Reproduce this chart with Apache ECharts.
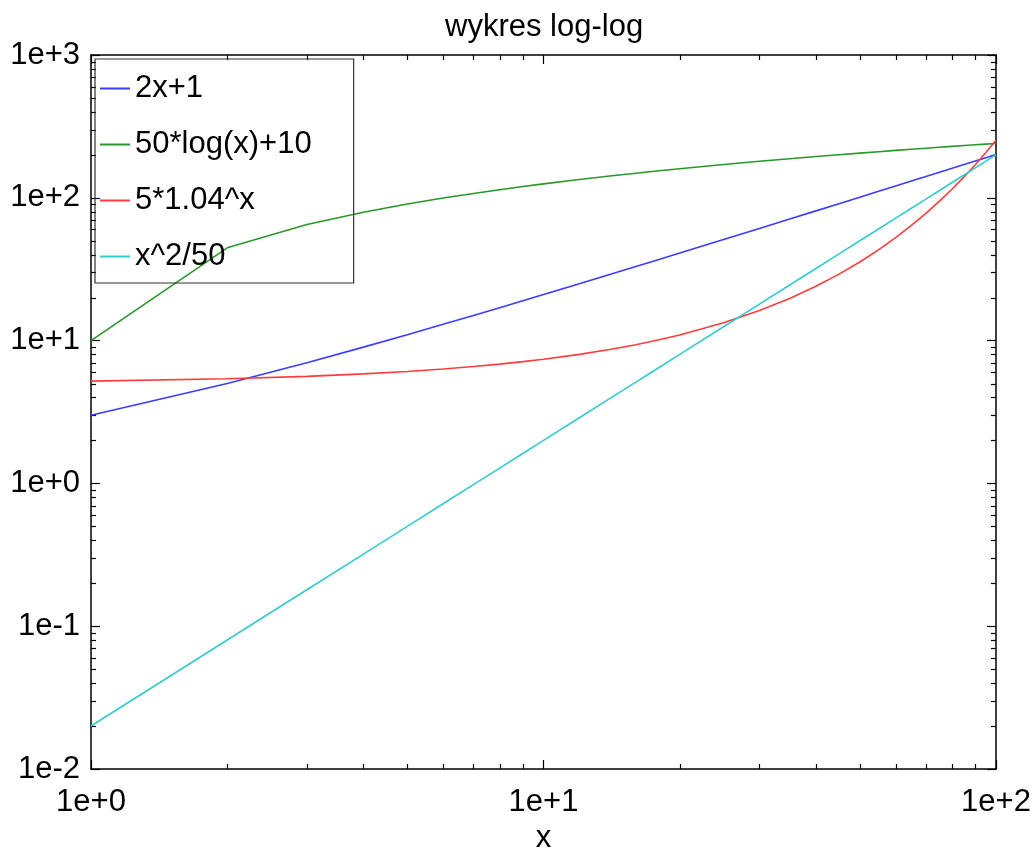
<!DOCTYPE html>
<html>
<head>
<meta charset="utf-8">
<script src="https://cdn.jsdelivr.net/npm/echarts@6/dist/echarts.min.js"></script>
<style>
html,body{margin:0;padding:0;background:#fff;}
#chart{width:1034px;height:849px;}
</style>
</head>
<body>
<div id="chart"></div>
<script>
// ---- data ----
const xValues = [1,2,3,4,5,6,7,8,9,10,12,14,16,18,20,25,30,35,40,45,50,55,60,65,70,75,80,85,90,95,100];
const seriesNames = ['2x+1', '50*log(x)+10', '5*1.04^x', 'x^2/50'];
const blueValues = [3,5,7,9,11,13,15,17,19,21,25,29,33,37,41,51,61,71,81,91,101,111,121,131,141,151,161,171,181,191,201];
const greenValues = [10,44.66,64.93,79.31,90.47,99.59,107.3,113.97,119.86,125.13,134.25,141.95,148.63,154.52,159.79,170.94,180.06,187.77,194.44,200.33,205.6,210.37,214.72,218.72,222.42,225.87,229.1,232.13,234.99,237.69,240.26];
const redValues = [5.2,5.41,5.62,5.85,6.08,6.33,6.58,6.84,7.12,7.4,8.01,8.66,9.36,10.13,10.96,13.33,16.22,19.73,24.0,29.21,35.53,43.23,52.6,63.99,77.86,94.73,115.25,140.22,170.6,207.56,252.52];
const cyanValues = [0.02,0.08,0.18,0.32,0.5,0.72,0.98,1.28,1.62,2,2.88,3.92,5.12,6.48,8,12.5,18,24.5,32,40.5,50,60.5,72,84.5,98,112.5,128,144.5,162,180.5,200];
const xTickLabels = ['1e+0','1e+1','1e+2'];          // for 10^0 .. 10^2
const yTickLabels = ['1e-2','1e-1','1e+0','1e+1','1e+2','1e+3']; // for 10^-2 .. 10^3
const xMinorTicks = [2,3,4,5,6,7,8,9,20,30,40,50,60,70,80,90];
const yMinorTicks = [0.02,0.03,0.04,0.05,0.06,0.07,0.08,0.09,0.2,0.3,0.4,0.5,0.6,0.7,0.8,0.9,2,3,4,5,6,7,8,9,20,30,40,50,60,70,80,90,200,300,400,500,600,700,800,900];

const colors = ['#3c3cff', '#2a972a', '#ff3c3c', '#33cccc'];
const FONT = 'Liberation Sans';
const FS = 31;

function pairs(vals){ return xValues.map((x,i)=>[x, vals[i]]); }

const chart = echarts.init(document.getElementById('chart'), null, {renderer:'canvas'});

const axisCommon = {
  type: 'log', logBase: 10,
  axisLine: {show:true, lineStyle:{color:'#000', width:1.5}},
  axisTick: {show:true, inside:true, length:9, lineStyle:{color:'#000', width:1.2}},
  splitLine: {show:false},
  minorTick: {show:false},
};

const option = {
  backgroundColor: '#fff',
  animation: false,
  title: {
    text: 'wykres log-log', left: 440, top: 7,
    textStyle: {fontFamily: FONT, fontSize: FS, fontWeight: 'normal', color:'#000'}
  },
  grid: {left: 91, right: 38, top: 55, bottom: 80, containLabel: false, outerBoundsMode: 'none'},
  legend: {
    data: seriesNames,
    orient: 'vertical',
    left: 95, top: 59,
    padding: [14, 42, 11, 5],
    itemGap: 25,
    itemWidth: 30, itemHeight: 2,
    icon: 'rect',
    borderColor: '#333', borderWidth: 1.2,
    textStyle: {fontFamily: FONT, fontSize: FS, color:'#000', lineHeight: 30}
  },
  xAxis: [
    Object.assign({}, axisCommon, {
      position: 'bottom', min: 1, max: 100,
      name: 'x', nameLocation: 'middle', nameGap: 54,
      nameTextStyle: {fontFamily: FONT, fontSize: FS, color:'#000'},
      axisLabel: {show:true, margin: 18, fontFamily: FONT, fontSize: FS, color:'#000',
        formatter: v => xTickLabels[Math.round(Math.log10(v))] || ''}
    }),
    Object.assign({}, axisCommon, {
      position: 'top', min: 1, max: 100, axisLabel:{show:false}
    })
  ],
  yAxis: [
    Object.assign({}, axisCommon, {
      position: 'left', min: 0.01, max: 1000,
      axisLabel: {show:true, margin: 11, fontFamily: FONT, fontSize: FS, color:'#000', padding:[4,0,0,0],
        formatter: v => yTickLabels[Math.round(Math.log10(v)) + 2] || ''}
    }),
    Object.assign({}, axisCommon, {
      position: 'right', min: 0.01, max: 1000, axisLabel:{show:false}
    })
  ],
  series: [
    {name: seriesNames[0], type:'line', data: pairs(blueValues), showSymbol:false, symbol:'none', lineStyle:{width:1.6}, color: colors[0], z:3},
    {name: seriesNames[1], type:'line', data: pairs(greenValues), showSymbol:false, symbol:'none', lineStyle:{width:1.6}, color: colors[1], z:3},
    {name: seriesNames[2], type:'line', data: pairs(redValues), showSymbol:false, symbol:'none', lineStyle:{width:1.6}, color: colors[2], z:3},
    {name: seriesNames[3], type:'line', data: pairs(cyanValues), showSymbol:false, symbol:'none', lineStyle:{width:1.6}, color: colors[3], z:3},
    {
      name: 'xminor', type: 'custom', silent: true, clip: false,
      data: xMinorTicks.map(v => [v, 1]),
      renderItem: function(params, api){
        const cs = params.coordSys;
        const x = Math.round(api.coord([api.value(0), 1])[0]) + 0.5;
        const yb = cs.y + cs.height, yt = cs.y;
        const st = {stroke:'#000', lineWidth:1.2};
        return {type:'group', children:[
          {type:'line', shape:{x1:x, y1:yb, x2:x, y2:yb-5}, style:st},
          {type:'line', shape:{x1:x, y1:yt, x2:x, y2:yt+5}, style:st}
        ]};
      }
    },
    {
      name: 'yminor', type: 'custom', silent: true, clip: false,
      data: yMinorTicks.map(v => [1, v]),
      renderItem: function(params, api){
        const cs = params.coordSys;
        const y = Math.round(api.coord([1, api.value(1)])[1]) + 0.5;
        const xl = cs.x, xr = cs.x + cs.width;
        const st = {stroke:'#000', lineWidth:1.2};
        return {type:'group', children:[
          {type:'line', shape:{x1:xl, y1:y, x2:xl+5, y2:y}, style:st},
          {type:'line', shape:{x1:xr, y1:y, x2:xr-5, y2:y}, style:st}
        ]};
      }
    }
  ]
};
chart.setOption(option);
</script>
</body>
</html>
